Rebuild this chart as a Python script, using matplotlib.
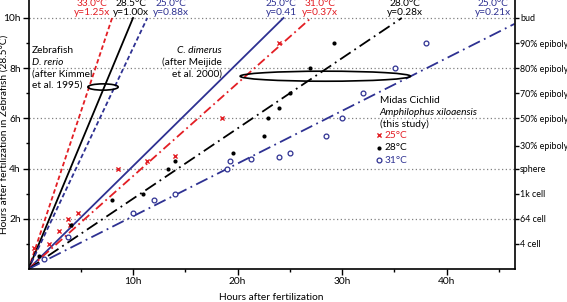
import matplotlib.pyplot as plt
from matplotlib.patches import Ellipse
import numpy as np

plt.rcParams["font.family"] = ["Lato", "DejaVu Sans"]

RED = "#e31e24"
BLUE = "#2e3192"

# regression lines through the origin
fit_temps = ["33.0°C", "28.5°C", "25.0°C", "25.0°C", "31.0°C", "28.0°C", "25.0°C"]
fit_eqs = ["y=1.25x", "y=1.00x", "y=0.88x", "y=0.41", "y=0.37x", "y=0.28x", "y=0.21x"]
fit_slopes = [1.25, 1.00, 0.88, 0.41, 0.37, 0.28, 0.21]

# Midas cichlid observations (hours after fertilization, zebrafish-equivalent hours)
t25_x = [0.55, 2.0, 2.9, 3.8, 4.0, 4.7, 8.6, 11.3, 14.0, 18.5, 24.0]
t25_y = [0.82, 1.0, 1.5, 2.0, 1.75, 2.25, 4.0, 4.3, 4.5, 6.0, 9.0]
t28_x = [1.0, 4.1, 8.0, 11.0, 13.3, 14.0, 19.6, 22.5, 22.9, 24.0, 25.0, 26.9, 29.2]
t28_y = [0.5, 1.75, 2.75, 3.0, 4.0, 4.3, 4.63, 5.3, 6.0, 6.4, 7.0, 8.0, 9.0]
t31_x = [1.5, 3.8, 10.0, 12.0, 14.0, 19.0, 19.3, 21.3, 24.0, 25.0, 28.5, 30.0, 32.0, 35.1, 38.0]
t31_y = [0.4, 1.26, 2.25, 2.75, 3.0, 4.0, 4.3, 4.38, 4.47, 4.63, 5.3, 6.0, 7.0, 8.0, 9.0]

# zebrafish stages on the right axis
stage_names = ["bud", "90% epiboly", "80% epiboly", "70% epiboly", "50% epiboly",
               "30% epiboly", "sphere", "1k cell", "64 cell", "4 cell"]
stage_hours = [10, 9, 8, 7, 6, 4.9, 4, 3, 2, 1]

# styles / layout
fit_colors = [RED, "black", BLUE, BLUE, RED, "black", BLUE]
fit_styles = [(0, (2.5, 1.5)), "-", (0, (2.5, 1.5)), "-",
              (0, (5, 2, 1, 2)), (0, (7, 2.5, 1, 2.5)), (0, (7, 2.5, 1, 2.5))]
fit_label_x = [6.1, 9.8, 13.6, 24.2, 27.9, 36.0, 44.4]
XMAX, YMAX = 46.5, 10.7
FS = 7.3

fig = plt.figure(figsize=(5.67, 3.02), dpi=100)
ax = fig.add_axes([28.5 / 567, 33 / 302, 486 / 567, 268.6 / 302])
ax.set_xlim(0, XMAX)
ax.set_ylim(0, YMAX)

for y in [2, 4, 6, 8, 10]:
    ax.plot([0, XMAX], [y, y], color="#808080", lw=0.9, ls=(0, (1, 2)), zorder=1)

for k, c, ls, lx, temp, eq in zip(fit_slopes, fit_colors, fit_styles, fit_label_x, fit_temps, fit_eqs):
    xe = min(10 / k, XMAX)
    ax.plot([0, xe], [0, k * xe], color=c, ls=ls, lw=1.3, zorder=2)
    ax.text(lx, 10.04, f"{temp}\n{eq}", color=c, fontsize=FS, ha="center", va="bottom",
            linespacing=0.95, zorder=5)

s25 = ax.scatter(t25_x, t25_y, marker="x", s=9, color=RED, lw=1.0, zorder=4)
s28 = ax.scatter(t28_x, t28_y, marker="o", s=9, color="black", lw=0, zorder=4)
s31 = ax.scatter(t31_x, t31_y, marker="o", s=12, facecolor="white", edgecolor=BLUE, lw=0.9, zorder=4)

ax.add_patch(Ellipse((7.13, 7.25), 2.9, 0.25, fill=False, color="black", lw=1.2, zorder=3))
ax.add_patch(Ellipse((28.4, 7.68), 16.3, 0.4, fill=False, color="black", lw=1.2, zorder=3))

ax.text(0.35, 8.9, "Zebrafish", fontsize=FS, va="top")
ax.text(0.35, 8.42, "D. rerio", fontsize=FS, va="top", style="italic")
ax.text(0.35, 7.94, "(after Kimmel\net al. 1995)", fontsize=FS, va="top", linespacing=1.3)

ax.text(18.5, 8.9, "C. dimerus", fontsize=FS, va="top", ha="right", style="italic")
ax.text(18.5, 8.42, "(after Meijide\net al. 2000)", fontsize=FS, va="top", ha="right",
        multialignment="right", linespacing=1.3)

ax.text(33.6, 6.9, "Midas Cichlid", fontsize=FS, va="top")
ax.text(33.6, 6.42, "Amphilophus xiloaensis", fontsize=FS, va="top", style="italic")
ax.text(33.6, 5.94, "(this study)", fontsize=FS, va="top")

ax.legend([s25, s28, s31], ["25°C", "28°C", "31°C"], loc="upper left",
          bbox_to_anchor=(0.712, 0.515), frameon=False, fontsize=FS,
          handletextpad=0.15, handlelength=0.8, labelspacing=0.35,
          borderpad=0, borderaxespad=0, labelcolor=[RED, "black", BLUE])

ax.spines["top"].set_visible(False)
ax.spines["right"].set_visible(False)
ax.set_xticks([10, 20, 30, 40], ["10h", "20h", "30h", "40h"])
ax.set_xticks([5, 15, 25, 35, 45], minor=True)
ax.set_yticks([2, 4, 6, 8, 10], ["2h", "4h", "6h", "8h", "10h"])
ax.set_yticks([1, 3, 5, 7, 9], minor=True)
ax.tick_params(labelsize=FS, length=4, width=1, pad=1.5)
ax.tick_params(which="minor", length=2, width=1)
for sp in ax.spines.values():
    sp.set_linewidth(1.2)
ax.set_xlabel("Hours after fertilization", fontsize=FS, labelpad=5)
ax.set_ylabel("Hours after fertilization in Zebrafish (28.5°C)", fontsize=FS)
ax.yaxis.set_label_coords(-0.040, 0.5)

ax2 = ax.twinx()
ax2.set_ylim(0, YMAX)
for s in ["top", "left", "bottom"]:
    ax2.spines[s].set_visible(False)
ax2.spines["right"].set_linewidth(1.2)
ax2.set_yticks(stage_hours, stage_names)
ax2.tick_params(labelsize=6.4, length=3, width=1, pad=1)

fig.savefig("out.png", dpi=100)
